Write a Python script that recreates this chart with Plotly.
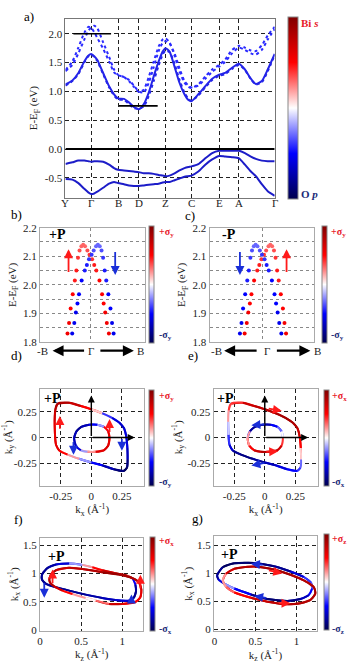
import plotly.graph_objects as go
from plotly.colors import sample_colorscale

W, H = 354, 670
FONT = "Liberation Serif, Times New Roman, serif"
SEISMIC = [[0.0, "rgb(0,0,77)"], [0.25, "rgb(0,0,255)"], [0.5, "rgb(255,255,255)"],
           [0.75, "rgb(255,0,0)"], [1.0, "rgb(128,0,0)"]]

# ---------------- a) band structure ----------------
hs_k = [0.0, 0.26, 0.53, 0.74, 1.01, 1.27, 1.55, 1.75, 2.11]
hs_labels = ["Y", "Γ", "B", "D", "Z", "C", "E", "A", "Γ"]
kpath = [0.00, 0.07, 0.13, 0.19, 0.23, 0.26, 0.29, 0.32, 0.38, 0.44, 0.49, 0.53, 0.59, 0.64,
         0.69, 0.74, 0.79, 0.84, 0.89, 0.94, 0.98, 1.01, 1.05, 1.10, 1.15, 1.20, 1.24, 1.27,
         1.34, 1.41, 1.48, 1.55, 1.61, 1.68, 1.75, 1.81, 1.87, 1.92, 1.98, 2.04, 2.11]
band_c1 = [1.12, 1.19, 1.32, 1.52, 1.62, 1.65, 1.61, 1.55, 1.32, 1.09, 0.95, 0.88, 0.87, 0.81,
           0.73, 0.69, 0.78, 0.98, 1.26, 1.52, 1.69, 1.75, 1.69, 1.43, 1.15, 0.95, 0.85, 0.83,
           0.95, 1.09, 1.22, 1.29, 1.32, 1.41, 1.48, 1.38, 1.22, 1.13, 1.18, 1.38, 1.65]
band_c2 = [1.10, 1.18, 1.30, 1.50, 1.61, 1.64, 1.60, 1.53, 1.30, 1.07, 0.93, 0.86, 0.85, 0.78,
           0.71, 0.70, 0.74, 0.92, 1.18, 1.45, 1.64, 1.71, 1.68, 1.48, 1.20, 0.98, 0.87, 0.84,
           0.93, 1.07, 1.20, 1.27, 1.30, 1.39, 1.46, 1.37, 1.21, 1.12, 1.16, 1.35, 1.63]
band_c3 = [1.37, 1.52, 1.76, 2.02, 2.12, 2.10, 2.03, 1.93, 1.74, 1.52, 1.33, 1.28, 1.25, 1.18,
           1.08, 0.99, 1.03, 1.25, 1.52, 1.78, 1.90, 1.92, 1.85, 1.62, 1.35, 1.15, 1.08, 1.06,
           1.12, 1.26, 1.38, 1.46, 1.55, 1.72, 1.79, 1.76, 1.71, 1.70, 1.80, 1.97, 2.12]
band_c4 = [1.35, 1.46, 1.66, 1.90, 2.05, 2.11, 2.14, 2.10, 1.85, 1.60, 1.38, 1.29, 1.25, 1.20,
           1.10, 1.00, 0.98, 1.15, 1.42, 1.70, 1.84, 1.87, 1.83, 1.66, 1.40, 1.18, 1.10, 1.07,
           1.10, 1.22, 1.34, 1.43, 1.51, 1.66, 1.76, 1.72, 1.66, 1.64, 1.72, 1.90, 2.08]
band_v1 = [-0.26, -0.23, -0.20, -0.20, -0.21, -0.22, -0.21, -0.21, -0.22, -0.27, -0.33, -0.36,
           -0.37, -0.38, -0.39, -0.40, -0.42, -0.42, -0.43, -0.45, -0.46, -0.47, -0.46, -0.42,
           -0.37, -0.33, -0.31, -0.30, -0.26, -0.16, -0.07, -0.03, -0.03, -0.03, -0.03, -0.07,
           -0.13, -0.17, -0.20, -0.21, -0.21]
band_v2 = [-0.52, -0.53, -0.59, -0.69, -0.75, -0.78, -0.77, -0.74, -0.67, -0.60, -0.57, -0.59,
           -0.61, -0.63, -0.64, -0.64, -0.63, -0.62, -0.61, -0.60, -0.58, -0.57, -0.57, -0.54,
           -0.51, -0.48, -0.47, -0.46, -0.39, -0.27, -0.18, -0.12, -0.13, -0.14, -0.16, -0.27,
           -0.39, -0.47, -0.61, -0.73, -0.81]
# short horizontal marker lines (k_start, k_end, energy)
level_marks = [(0.08, 0.46, 2.0), (0.54, 0.93, 0.75)]

# ---------------- b), c) Rashba split bands ----------------
rb_k_left = [-0.44, -0.41, -0.38, -0.34, -0.30, -0.27, -0.24, -0.21, -0.175, -0.14, -0.105,
             -0.06, -0.02, 0.03, 0.07, 0.11, 0.17, 0.22, 0.25, 0.28, 0.31, 0.35]
rb_k_right = [0.44, 0.41, 0.38, 0.34, 0.30, 0.27, 0.24, 0.21, 0.175, 0.14, 0.105,
              0.06, 0.02, -0.03, -0.07, -0.11, -0.17, -0.22, -0.25, -0.28, -0.31, -0.35]
rb_E = [1.83, 1.867, 1.918, 1.967, 2.015, 2.05, 2.095, 2.12, 2.135, 2.14, 2.135,
        2.12, 2.105, 2.09, 2.07, 2.05, 2.015, 1.967, 1.935, 1.904, 1.867, 1.83]
rb_spin = [0.55, 0.55, 0.5, 0.5, 0.45, 0.45, 0.4, 0.35, 0.3, 0.3, 0.3,
           0.35, 0.4, 0.4, 0.45, 0.45, 0.5, 0.5, 0.5, 0.55, 0.55, 0.55]
b_ticks = [1.8, 1.85, 1.9, 1.95, 2.0, 2.05, 2.1, 2.15, 2.2]
b_ticktext = ["1.8", "", "1.9", "", "2.0", "", "2.1", "", "2.2"]

# ---------------- d), e) spin texture in kx-ky ----------------
out_kx = [-0.276, -0.181, -0.086, 0.0, 0.089, 0.170, 0.230, 0.268, 0.286, 0.295, 0.297, 0.292,
          0.265, 0.184, 0.089, 0.0, -0.100, -0.195, -0.262, -0.289, -0.297, -0.300, -0.295]
out_ky = [0.330, 0.340, 0.308, 0.276, 0.237, 0.192, 0.144, 0.090, 0.010, -0.103, -0.215, -0.295,
          -0.327, -0.311, -0.272, -0.244, -0.208, -0.167, -0.128, -0.071, 0.026, 0.154, 0.266]
out_sy = [0.8, 0.8, 0.7, 0.5, 0.1, -0.4, -0.6, -0.65, -0.6, -0.6, -0.7, -0.9,
          -0.95, -0.85, -0.7, -0.5, -0.2, 0.2, 0.5, 0.6, 0.6, 0.6, 0.7]
out_sx = [0.4, 0.6, 0.7, 0.75, 0.8, 0.85, 0.85, 0.8, 0.7, 0.5, 0.1, -0.3,
          -0.4, -0.5, -0.6, -0.7, -0.8, -0.85, -0.8, -0.6, -0.4, -0.1, 0.2]
in_kx = [-0.141, -0.122, -0.081, -0.019, 0.049, 0.103, 0.138, 0.149, 0.138, 0.103, 0.035,
         -0.032, -0.086, -0.127]
in_ky = [-0.006, 0.060, 0.105, 0.125, 0.125, 0.105, 0.060, -0.006, -0.080, -0.125, -0.140,
         -0.140, -0.125, -0.080]
in_sy = [-0.7, -0.8, -0.8, -0.7, -0.5, -0.2, 0.5, 0.6, 0.6, 0.65, 0.6, 0.2, -0.2, -0.6]
in_sx = [0.2, -0.5, -0.8, -0.85, -0.7, -0.5, -0.3, 0.0, 0.4, 0.7, 0.8, 0.8, 0.7, 0.5]

# ---------------- f), g) contours in kz-kx ----------------
f1_kz = [0.024, 0.093, 0.194, 0.355, 0.516, 0.637, 0.758, 0.919, 1.060, 1.129, 1.161, 1.169,
         1.141, 1.081, 0.919, 0.758, 0.556, 0.355, 0.194, 0.073, 0.024]
f1_kx = [0.982, 1.101, 1.160, 1.178, 1.154, 1.112, 1.059, 1.006, 0.964, 0.911, 0.805, 0.686,
         0.568, 0.521, 0.533, 0.568, 0.627, 0.698, 0.757, 0.817, 0.893]
f1_s = [-0.8, -0.8, -0.75, -0.6, -0.2, 0.2, 0.5, 0.7, 0.8, 0.3, -0.5, -0.8,
        -0.8, -0.7, -0.6, -0.7, -0.75, -0.8, -0.8, -0.8, -0.8]
f2_kz = [0.113, 0.133, 0.194, 0.355, 0.556, 0.758, 0.960, 1.121, 1.202, 1.234, 1.222, 1.161,
         1.000, 0.839, 0.677, 0.556, 0.395, 0.274, 0.173, 0.125]
f2_kx = [0.893, 0.982, 1.059, 1.101, 1.071, 1.024, 0.982, 0.923, 0.852, 0.716, 0.580, 0.497,
         0.462, 0.462, 0.521, 0.568, 0.639, 0.698, 0.775, 0.834]
f2_s = [0.8, 0.8, 0.8, 0.7, 0.75, 0.8, 0.9, 0.85, 0.8, 0.7, 0.6, 0.5,
        0.6, 0.7, 0.3, 0.0, 0.2, 0.5, 0.7, 0.8]
g1_kz = [0.032, 0.101, 0.242, 0.484, 0.726, 0.927, 1.089, 1.177, 1.190, 1.149, 1.048, 0.887,
         0.645, 0.444, 0.242, 0.121, 0.048]
g1_kx = [0.965, 1.111, 1.181, 1.187, 1.129, 1.035, 0.936, 0.836, 0.731, 0.614, 0.544, 0.509,
         0.544, 0.626, 0.731, 0.819, 0.895]
g1_s = [-0.8, -0.9, -0.95, -0.9, -0.85, -0.8, -0.6, -0.4, -0.3, -0.5, -0.7, -0.85,
        -0.9, -0.8, -0.5, -0.2, -0.6]
g2_kz = [0.101, 0.141, 0.242, 0.484, 0.726, 0.927, 1.089, 1.210, 1.230, 1.169, 1.048, 0.887,
         0.645, 0.444, 0.242, 0.141]
g2_kx = [0.877, 0.994, 1.082, 1.123, 1.070, 0.977, 0.877, 0.760, 0.643, 0.526, 0.468, 0.450,
         0.497, 0.567, 0.661, 0.760]
g2_s = [0.2, 0.5, 0.7, 0.8, 0.85, 0.85, 0.8, 0.8, 0.85, 0.8, 0.8, 0.8, 0.75, 0.7, 0.5, 0.3]


def col(s):
    return sample_colorscale(SEISMIC, [(s + 1) / 2])[0]


def px(x):
    return x / W


def py(y):
    return 1 - y / H


fig = go.Figure()

# a) bands
for band, dash, c in [(band_c1, "solid", "#2424e8"), (band_c2, "dot", "#2424e8"),
                      (band_c3, "dot", "#2a2aff"), (band_c4, "dot", "#2a2aff"),
                      (band_v1, "solid", "#1c1cc8"), (band_v2, "solid", "#1c1cc8")]:
    fig.add_trace(go.Scatter(x=kpath, y=band, mode="lines",
                             line=dict(color=c, width=2, dash=dash, shape="spline", smoothing=0.6),
                             xaxis="x", yaxis="y", showlegend=False, hoverinfo="skip"))

# b), c) dots
for xa, ya, red_k, blue_k in [("x2", "y2", rb_k_left, rb_k_right), ("x3", "y3", rb_k_right, rb_k_left)]:
    fig.add_trace(go.Scatter(x=red_k, y=rb_E, mode="markers", xaxis=xa, yaxis=ya,
                             marker=dict(size=4, color=[col(s) for s in rb_spin]),
                             showlegend=False, hoverinfo="skip"))
    fig.add_trace(go.Scatter(x=blue_k, y=rb_E, mode="markers", xaxis=xa, yaxis=ya,
                             marker=dict(size=4, color=[col(-s) for s in rb_spin]),
                             showlegend=False, hoverinfo="skip"))


def add_loop(xs, ys, spins, xa, ya, width=2.0):
    # short spline pieces through three neighbouring points, coloured by the spin at the middle one
    n = len(xs)
    for i in range(n):
        idx = [i % n, (i + 1) % n, (i + 2) % n]
        c = col(spins[(i + 1) % n])
        fig.add_trace(go.Scatter(x=[xs[j] for j in idx], y=[ys[j] for j in idx], mode="lines",
                                 line=dict(color=c, width=width, shape="spline", smoothing=1.0),
                                 xaxis=xa, yaxis=ya, showlegend=False, hoverinfo="skip"))


add_loop(out_kx, out_ky, out_sy, "x4", "y4")
add_loop(in_kx, in_ky, in_sy, "x4", "y4")
add_loop(out_kx, out_ky, out_sx, "x5", "y5")
add_loop(in_kx, in_ky, in_sx, "x5", "y5")
add_loop(f1_kz, f1_kx, f1_s, "x6", "y6")
add_loop(f2_kz, f2_kx, f2_s, "x6", "y6")
add_loop(g1_kz, g1_kx, g1_s, "x7", "y7")
add_loop(g2_kz, g2_kx, g2_s, "x7", "y7")

# colorbars
cbars = [("x", "y", 287, 104, 182, 10), ("x2", "y2", 147.7, 284, 117, 5),
         ("x3", "y3", 321.7, 284, 117, 5), ("x4", "y4", 147.7, 440, 96, 5),
         ("x5", "y5", 323.3, 440, 96, 5), ("x6", "y6", 148, 589, 94, 5),
         ("x7", "y7", 323.3, 587, 96, 5)]
for xa, ya, x0, yc, ln, th in cbars:
    fig.add_trace(go.Scatter(x=[None], y=[None], mode="markers", xaxis=xa, yaxis=ya,
                             marker=dict(color=[0], cmin=-1, cmax=1, colorscale=SEISMIC, showscale=True,
                                         colorbar=dict(x=px(x0), xanchor="left", y=py(yc), yanchor="middle",
                                                       len=ln, lenmode="pixels", thickness=th,
                                                       thicknessmode="pixels", outlinewidth=1,
                                                       outlinecolor="#888", showticklabels=False,
                                                       ticks="", xpad=0, ypad=0)),
                             showlegend=False, hoverinfo="skip"))

tickfont = dict(family=FONT, size=11, color="#222")
titlefont = dict(family=FONT, size=11, color="#222")


def ax(domain, rng, **kw):
    d = dict(domain=domain, range=rng, showline=True, mirror=True, linecolor="#999", linewidth=1,
             ticks="", zeroline=False, tickfont=tickfont, showgrid=True, gridcolor="#222",
             gridwidth=0.8, griddash="4px,3px", fixedrange=True)
    d.update(kw)
    return d


dotgrid = dict(gridcolor="#888", griddash="dot", gridwidth=0.8)
yA = [1 - 195 / H, 1 - 13 / H]
yBC = [1 - 342.3 / H, 1 - 225.7 / H]
yDE = [1 - 488.3 / H, 1 - 390 / H]
kunit = "(Å<sup>-1</sup>)"
t_dd = dict(tickvals=[-0.25, 0, 0.25], ticktext=["-0.25", "0", "0.25"])

fig.update_layout(
    width=W, height=H, margin=dict(l=0, r=0, t=0, b=0),
    paper_bgcolor="white", plot_bgcolor="white", font=dict(family=FONT),
    xaxis=ax([px(63), px(274)], [0, 2.11], tickvals=hs_k, showticklabels=False, anchor="y", linecolor="#777"),
    yaxis=ax(yA, [-0.84, 2.26], tickvals=[-0.5, 0, 0.5, 1, 1.5, 2],
             ticktext=["-0.5", "0.0", "0.5", "1.0", "1.5", "2.0"], anchor="x", linecolor="#777",
             title=dict(text="E-E<sub>F</sub> (eV)", font=titlefont, standoff=4)),
    xaxis2=ax([px(37.3), px(143)], [-0.965, 1.035], tickvals=[0], showticklabels=False, anchor="y2",
              linecolor="#aaa", **dotgrid),
    yaxis2=ax(yBC, [1.8, 2.2], tickvals=b_ticks, ticktext=b_ticktext, anchor="x2", linecolor="#aaa",
              title=dict(text="E-E<sub>F</sub> (eV)", font=titlefont, standoff=4), **dotgrid),
    xaxis3=ax([px(208.3), px(314)], [-1.02, 0.98], tickvals=[0], showticklabels=False, anchor="y3",
              linecolor="#aaa", **dotgrid),
    yaxis3=ax(yBC, [1.8, 2.2], tickvals=b_ticks, ticktext=b_ticktext, anchor="x3", linecolor="#aaa",
              title=dict(text="E-E<sub>F</sub> (eV)", font=titlefont, standoff=4), **dotgrid),
    xaxis4=ax([px(37.3), px(142.7)], [-0.42, 0.435], anchor="y4", linecolor="#aaa",
              title=dict(text="k<sub>x</sub> " + kunit, font=titlefont, standoff=2), **t_dd),
    yaxis4=ax(yDE, [-0.47, 0.474], anchor="x4", linecolor="#aaa",
              title=dict(text="k<sub>y</sub> " + kunit, font=titlefont, standoff=2), **t_dd),
    xaxis5=ax([px(212.3), px(317.7)], [-0.42, 0.436], anchor="y5", linecolor="#aaa",
              title=dict(text="k<sub>x</sub> " + kunit, font=titlefont, standoff=2), **t_dd),
    yaxis5=ax(yDE, [-0.47, 0.474], anchor="x5", linecolor="#aaa",
              title=dict(text="k<sub>y</sub> " + kunit, font=titlefont, standoff=2), **t_dd),
    xaxis6=ax([px(37.3), px(141.7)], [0, 1.26], tickvals=[0, 0.5, 1], ticktext=["0", "0.5", "1"],
              anchor="y6", linecolor="#aaa", title=dict(text="k<sub>z</sub> " + kunit, font=titlefont, standoff=2)),
    yaxis6=ax([1 - 636 / H, 1 - 541.7 / H], [-0.01, 1.63], tickvals=[0, 0.5, 1, 1.5],
              ticktext=["0", "0.5", "1", "1.5"], anchor="x6", linecolor="#aaa",
              title=dict(text="k<sub>x</sub> " + kunit, font=titlefont, standoff=2)),
    xaxis7=ax([px(212.7), px(316.7)], [-0.007, 1.25], tickvals=[0, 0.5, 1], ticktext=["0", "0.5", "1"],
              anchor="y7", linecolor="#aaa", title=dict(text="k<sub>z</sub> " + kunit, font=titlefont, standoff=2)),
    yaxis7=ax([1 - 636.7 / H, 1 - 540 / H], [-0.03, 1.66], tickvals=[0, 0.5, 1, 1.5],
              ticktext=["0", "0.5", "1", "1.5"], anchor="x7", linecolor="#aaa",
              title=dict(text="k<sub>x</sub> " + kunit, font=titlefont, standoff=2)),
)

shapes = [dict(type="line", xref="x", yref="y", x0=0, x1=2.11, y0=0, y1=0, line=dict(color="black", width=2))]
for k0, k1, e in level_marks:
    shapes.append(dict(type="line", xref="x", yref="y", x0=k0, x1=k1, y0=e, y1=e,
                       line=dict(color="black", width=1.6)))
fig.update_layout(shapes=shapes)

ann = []


def text(t, x, y, size=11, color="black", xanchor="left"):
    ann.append(dict(text=t, x=px(x), y=py(y), xref="paper", yref="paper", showarrow=False,
                    xanchor=xanchor, yanchor="middle", font=dict(family=FONT, size=size, color=color)))


def arrow(xa, ya, x0, y0, x1, y1, color, width=1.8, size=1.0):
    ann.append(dict(x=x1, y=y1, ax=x0, ay=y0, xref=xa, yref=ya, axref=xa, ayref=ya, text="",
                    showarrow=True, arrowhead=2, arrowsize=size, arrowwidth=width, arrowcolor=color,
                    standoff=0, startstandoff=0))


def parrow(x0, x1, y, width=2.2):
    ann.append(dict(x=px(x1), y=py(y), ax=x0 - x1, ay=0, xref="paper", yref="paper", text="",
                    showarrow=True, arrowhead=2, arrowsize=1.0, arrowwidth=width, arrowcolor="black"))


RED = "#ff1a1a"
BLUE = "#1a2fd8"
NAVY = "#1b2a78"

# high-symmetry labels of panel a, placed right under the frame
for k, lab in zip(hs_k, hs_labels):
    ann.append(dict(text=lab, x=k, y=py(201), xref="x", yref="paper", showarrow=False,
                    xanchor="center", yanchor="middle", font=dict(family=FONT, size=11, color="#222")))

# panel letters
text("a)", 19, 11, 13)
text("b)", 6, 212, 13)
text("c)", 182, 213, 13)
text("d)", 6, 356, 13)
text("e)", 185, 356, 13)
text("f)", 9, 523, 13)
text("g)", 189, 522, 13)

# colorbar labels
text("<b>Bi <i>s</i></b>", 299, 17, 11, "#e8202a")
text("<b>O <i>p</i></b>", 299, 191, 11, NAVY)
for x, top, bot, lab in [(155, 231, 336, "y"), (329, 231, 336, "y"), (155, 398, 485, "y"),
                         (330, 398, 485, "x"), (155, 545, 635, "x"), (330, 543, 635, "z")]:
    text("<b>+σ<sub>%s</sub></b>" % lab, x, top, 10, "#e8202a")
    text("<b>-σ<sub>%s</sub></b>" % lab, x, bot, 10, NAVY)

# +P / -P
text("<b>+P</b>", 44, 233, 14)
text("<b>-P</b>", 219, 233, 14)
text("<b>+P</b>", 39, 400, 14)
text("<b>+P</b>", 214, 400, 14)
text("<b>+P</b>", 43, 561, 14)
text("<b>+P</b>", 218, 559, 14)

# b, c bottom labels and arrows
for xl, xg, xr, a0, a1, b0, b1 in [(40, 88.3, 139, 83, 50, 97, 132), (215, 266, 317, 257, 223, 275, 310)]:
    text("-B", xl, 351, 11, "#222", "center")
    text("Γ", xg, 351, 11, "#222", "center")
    text("B", xr, 351, 11, "#222", "center")
    parrow(a0, a1, 351)
    parrow(b0, b1, 351)

# spin arrows b, c
arrow("x2", "y2", -0.42, 2.04, -0.42, 2.125, RED)
arrow("x2", "y2", 0.47, 2.12, 0.47, 2.035, BLUE)
arrow("x3", "y3", -0.44, 2.12, -0.44, 2.035, BLUE)
arrow("x3", "y3", 0.45, 2.04, 0.45, 2.125, RED)

# d, e axes arrows
for xa, ya in [("x4", "y4"), ("x5", "y5")]:
    arrow(xa, ya, 0, 0, 0, 0.41, "black", 1.4)
    arrow(xa, ya, 0, 0, 0.355, 0, "black", 1.4)

# d spin arrows
arrow("x4", "y4", -0.257, 0.07, -0.257, 0.21, RED)
arrow("x4", "y4", 0.25, 0.0, 0.25, -0.13, BLUE)
arrow("x4", "y4", 0.149, 0.04, 0.149, 0.18, RED)
arrow("x4", "y4", -0.146, -0.03, -0.146, -0.17, BLUE)
# e spin arrows
arrow("x5", "y5", 0.02, 0.285, 0.14, 0.26, RED)
arrow("x5", "y5", 0.01, 0.13, -0.11, 0.12, BLUE)
arrow("x5", "y5", 0.0, -0.14, 0.11, -0.135, RED)
arrow("x5", "y5", 0.01, -0.245, -0.11, -0.275, BLUE)
# f spin arrows
arrow("x6", "y6", 0.153, 0.80, 0.153, 1.07, RED)
arrow("x6", "y6", 0.052, 0.86, 0.052, 0.57, BLUE)
arrow("x6", "y6", 1.222, 0.71, 1.222, 0.98, RED)
arrow("x6", "y6", 1.113, 0.48, 1.113, 0.63, BLUE)
# g spin arrows
arrow("x7", "y7", 0.605, 1.152, 0.444, 1.17, BLUE)
arrow("x7", "y7", 0.645, 1.06, 0.827, 1.00, RED)
arrow("x7", "y7", 0.645, 0.56, 0.484, 0.60, BLUE)
arrow("x7", "y7", 0.766, 0.47, 0.927, 0.47, RED)

fig.update_layout(annotations=ann)
fig.write_html("out.html", config={"displayModeBar": False},
               post_script="document.body.style.margin='0';")
